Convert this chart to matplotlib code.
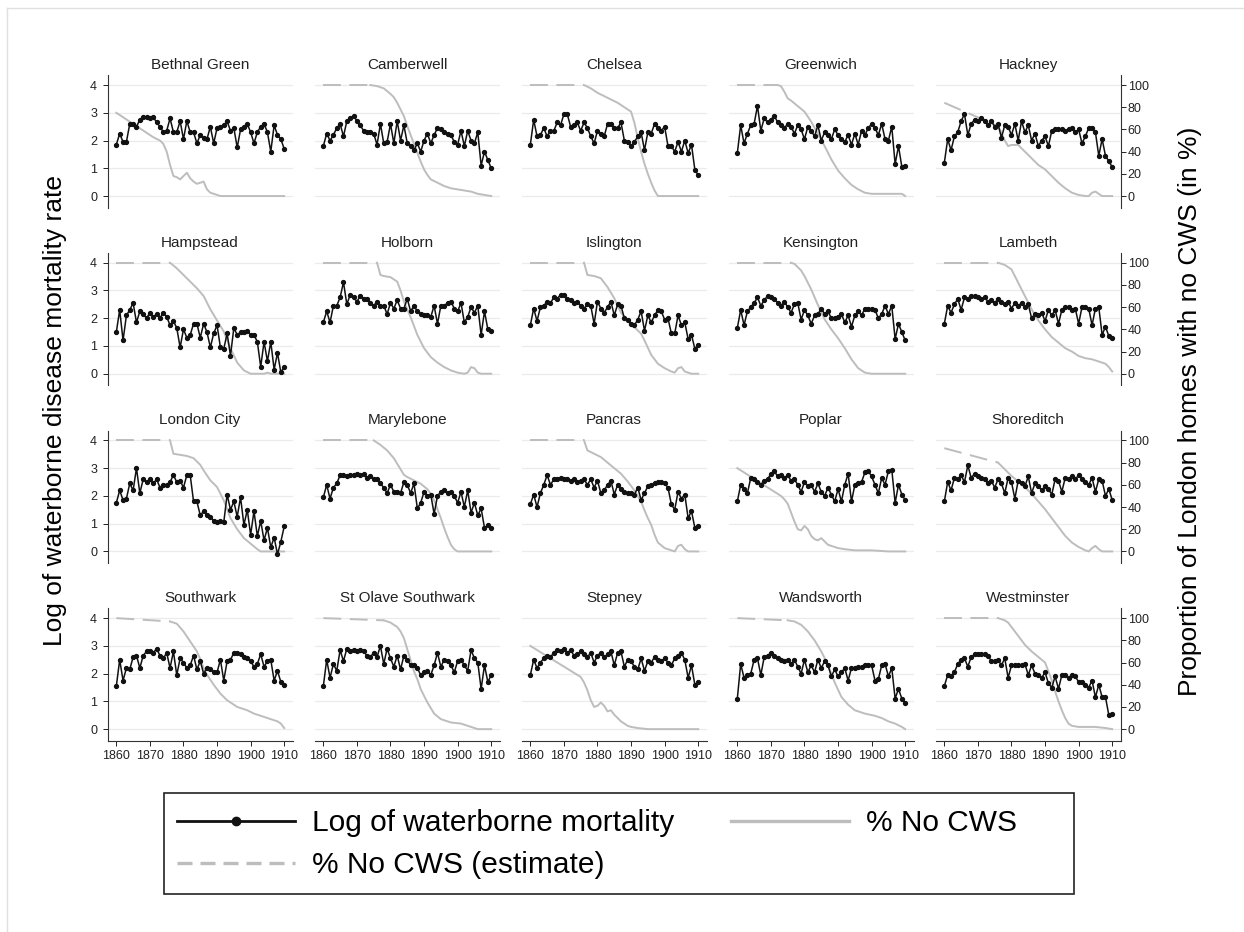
import numpy as np
import matplotlib.pyplot as plt
from matplotlib.lines import Line2D
from matplotlib.patches import Rectangle

plt.rcParams['font.family'] = ['Liberation Sans', 'DejaVu Sans']

W, H = 1244, 932  # output size in pixels

DISTRICTS = ['Bethnal Green', 'Camberwell', 'Chelsea', 'Greenwich', 'Hackney',
             'Hampstead', 'Holborn', 'Islington', 'Kensington', 'Lambeth',
             'London City', 'Marylebone', 'Pancras', 'Poplar', 'Shoreditch',
             'Southwark', 'St Olave Southwark', 'Stepney', 'Wandsworth', 'Westminster']
FIRST_YEAR = 1860
X_TICKS = [1860, 1870, 1880, 1890, 1900, 1910]
LEFT_TICKS = [0, 1, 2, 3, 4]
RIGHT_TICKS = [0, 20, 40, 60, 80, 100]

# Log of waterborne disease mortality rate, one value per year 1860-1910
mort_bethnal_green = [1.85, 2.25, 1.95, 1.95, 2.6, 2.6, 2.5, 2.75, 2.85, 2.85, 2.8, 2.85, 2.65, 2.5, 2.3, 2.35, 2.8,
                      2.3, 2.3, 2.7, 2.05, 2.7, 2.3, 2.3, 1.9, 2.2, 2.1, 2.05, 2.5, 1.9, 2.45, 2.5, 2.55, 2.7, 2.35,
                      2.45, 1.75, 2.4, 2.5, 2.6, 2.3, 1.9, 2.3, 2.5, 2.6, 2.3, 1.6, 2.55, 2.2, 2.05, 1.7]
mort_camberwell = [1.8, 2.25, 2.0, 2.2, 2.45, 2.6, 2.15, 2.7, 2.8, 2.9, 2.7, 2.55, 2.35, 2.3, 2.3, 2.25, 1.85, 2.6,
                   1.9, 1.95, 2.6, 1.9, 2.7, 2.0, 2.55, 1.9, 1.8, 1.65, 1.9, 1.6, 2.0, 2.25, 1.9, 2.2, 2.45, 2.4, 2.3,
                   2.25, 2.2, 1.95, 1.85, 2.35, 1.8, 2.35, 2.0, 1.9, 2.3, 1.1, 1.6, 1.3, 1.0]
mort_chelsea = [1.85, 2.75, 2.15, 2.2, 2.45, 2.15, 2.35, 2.35, 2.65, 2.55, 2.95, 2.95, 2.5, 2.55, 2.65, 2.35, 2.65,
                2.45, 2.15, 1.9, 2.35, 2.25, 2.15, 2.6, 2.6, 2.45, 2.45, 2.65, 2.0, 1.95, 1.8, 1.95, 2.15, 2.3, 1.65,
                2.3, 2.25, 2.6, 2.45, 2.35, 2.5, 1.8, 1.8, 1.6, 1.95, 1.6, 2.0, 1.55, 1.85, 0.95, 0.75]
mort_greenwich = [1.55, 2.55, 1.9, 2.25, 2.55, 2.6, 3.25, 2.35, 2.8, 2.65, 2.75, 2.9, 2.65, 2.55, 2.45, 2.6, 2.5,
                  2.25, 2.55, 2.4, 2.05, 2.5, 2.35, 2.15, 2.55, 2.0, 2.3, 2.2, 2.05, 2.4, 2.2, 2.05, 1.95, 2.2, 1.85,
                  2.25, 1.85, 2.35, 2.2, 2.45, 2.6, 2.45, 2.2, 2.6, 2.05, 2.0, 2.5, 1.15, 1.8, 1.05, 1.1]
mort_hackney = [1.2, 2.05, 1.65, 2.15, 2.3, 2.7, 2.95, 2.2, 2.6, 2.75, 2.7, 2.8, 2.7, 2.55, 2.7, 2.5, 2.6, 2.1, 2.55,
                2.5, 2.2, 2.6, 2.0, 2.7, 2.3, 2.55, 2.0, 2.25, 1.8, 2.0, 2.15, 1.8, 2.35, 2.4, 2.4, 2.4, 2.35, 2.4,
                2.45, 2.3, 2.4, 1.9, 2.15, 2.45, 2.45, 2.3, 1.45, 2.05, 1.45, 1.25, 1.05]
mort_hampstead = [1.5, 2.3, 1.2, 2.1, 2.3, 2.55, 1.85, 2.25, 2.15, 2.0, 2.2, 2.05, 2.15, 2.0, 2.2, 2.05, 1.75, 1.9,
                  1.65, 0.95, 1.6, 1.3, 1.4, 1.8, 1.8, 1.3, 1.8, 1.5, 0.95, 1.45, 1.75, 0.95, 0.9, 1.45, 0.65, 1.65,
                  1.4, 1.5, 1.5, 1.55, 1.4, 1.4, 1.15, 0.25, 1.15, 0.45, 1.15, 0.15, 0.75, 0.05, 0.25]
mort_holborn = [1.85, 2.25, 1.85, 2.45, 2.45, 2.75, 3.3, 2.5, 2.85, 2.75, 2.6, 2.8, 2.7, 2.7, 2.55, 2.45, 2.6, 2.45,
                2.45, 2.15, 2.55, 2.35, 2.65, 2.35, 2.35, 2.7, 2.25, 2.45, 2.25, 2.15, 2.1, 2.1, 2.05, 2.45, 1.8,
                2.45, 2.45, 2.55, 2.6, 2.35, 2.25, 2.55, 1.85, 2.05, 2.4, 2.2, 2.45, 1.4, 2.25, 1.6, 1.55]
mort_islington = [1.75, 2.35, 1.9, 2.4, 2.45, 2.6, 2.55, 2.75, 2.7, 2.85, 2.85, 2.7, 2.65, 2.55, 2.6, 2.45, 2.35,
                  2.5, 2.45, 1.8, 2.6, 2.35, 2.2, 2.4, 2.6, 2.1, 2.5, 2.45, 2.0, 1.95, 1.8, 1.75, 1.95, 2.25, 1.55,
                  2.1, 1.85, 2.1, 2.3, 2.25, 1.95, 2.0, 1.45, 1.45, 2.1, 1.75, 1.85, 1.25, 1.4, 0.9, 1.05]
mort_kensington = [1.65, 2.3, 1.75, 2.25, 2.4, 2.55, 2.75, 2.45, 2.65, 2.8, 2.75, 2.7, 2.55, 2.45, 2.6, 2.4, 2.2,
                   2.5, 2.55, 1.95, 2.3, 2.1, 1.8, 2.1, 2.15, 2.35, 2.15, 2.25, 2.0, 2.0, 2.05, 2.15, 1.85, 2.1, 1.7,
                   2.1, 2.25, 2.1, 2.35, 2.35, 2.35, 2.3, 2.0, 2.15, 2.45, 2.15, 2.45, 1.25, 1.8, 1.5, 1.2]
mort_lambeth = [1.8, 2.45, 2.2, 2.5, 2.7, 2.3, 2.75, 2.7, 2.8, 2.8, 2.75, 2.7, 2.75, 2.6, 2.65, 2.55, 2.7, 2.6, 2.5,
                2.6, 2.35, 2.55, 2.45, 2.55, 2.4, 2.5, 2.0, 2.15, 2.1, 2.2, 1.9, 2.3, 2.1, 2.3, 1.8, 2.3, 2.4, 2.4,
                2.3, 2.35, 1.8, 2.4, 2.4, 2.35, 1.75, 2.35, 2.4, 1.4, 1.7, 1.35, 1.3]
mort_london_city = [1.75, 2.2, 1.85, 1.9, 2.45, 2.2, 3.0, 2.1, 2.6, 2.5, 2.6, 2.45, 2.6, 2.3, 2.4, 2.4, 2.5, 2.75,
                    2.5, 2.55, 2.3, 2.75, 2.75, 1.8, 1.8, 1.3, 1.45, 1.3, 1.25, 1.1, 1.05, 1.1, 1.05, 2.05, 1.5, 1.8,
                    1.25, 1.95, 0.95, 1.5, 0.6, 1.45, 0.55, 1.1, 0.4, 0.85, 0.15, 0.5, -0.1, 0.35, 0.9]
mort_marylebone = [1.95, 2.4, 1.9, 2.3, 2.45, 2.75, 2.75, 2.7, 2.75, 2.75, 2.8, 2.75, 2.8, 2.65, 2.7, 2.6, 2.6,
                   2.45, 2.3, 2.1, 2.4, 2.15, 2.15, 2.1, 2.5, 2.4, 2.1, 2.45, 1.55, 1.75, 2.15, 2.0, 2.05, 1.35, 2.0,
                   2.15, 2.2, 2.1, 2.15, 2.0, 1.75, 2.15, 1.6, 2.2, 1.4, 1.75, 1.3, 1.55, 0.85, 0.95, 0.85]
mort_pancras = [1.7, 2.05, 1.6, 2.1, 2.4, 2.75, 2.4, 2.6, 2.6, 2.65, 2.6, 2.6, 2.55, 2.6, 2.5, 2.55, 2.6, 2.4, 2.6,
                2.3, 2.55, 2.1, 2.2, 2.4, 2.55, 2.05, 2.4, 2.25, 2.15, 2.1, 2.1, 2.05, 2.3, 1.85, 2.1, 2.35, 2.4,
                2.45, 2.5, 2.5, 2.45, 2.3, 1.7, 1.5, 2.15, 1.9, 2.05, 1.2, 1.45, 0.85, 0.9]
mort_poplar = [1.8, 2.4, 2.25, 2.1, 2.65, 2.6, 2.5, 2.4, 2.55, 2.6, 2.8, 2.9, 2.7, 2.75, 2.65, 2.75, 2.55, 2.6, 2.4,
               2.15, 2.5, 2.35, 2.4, 2.15, 2.45, 2.15, 2.0, 2.3, 2.05, 1.8, 2.25, 1.8, 2.4, 2.8, 1.8, 2.4, 2.45, 2.5,
               2.85, 2.9, 2.7, 2.4, 2.1, 2.65, 2.4, 2.9, 2.95, 1.75, 2.4, 2.05, 1.85]
mort_shoreditch = [1.8, 2.5, 2.2, 2.65, 2.6, 2.75, 2.5, 3.1, 2.65, 2.8, 2.7, 2.65, 2.6, 2.45, 2.55, 2.3, 2.6, 2.45,
                   2.1, 2.65, 2.5, 1.9, 2.55, 2.45, 2.35, 2.7, 2.1, 2.45, 2.35, 2.2, 2.35, 2.25, 2.05, 2.6, 2.55,
                   2.15, 2.65, 2.6, 2.7, 2.6, 2.75, 2.6, 2.5, 2.4, 2.65, 2.15, 2.6, 2.55, 2.0, 2.25, 1.85]
mort_southwark = [1.55, 2.5, 1.75, 2.2, 2.15, 2.6, 2.65, 2.2, 2.65, 2.8, 2.8, 2.75, 2.9, 2.65, 2.55, 2.75, 2.2, 2.8,
                  1.95, 2.55, 2.4, 2.2, 2.3, 2.65, 2.15, 2.45, 2.0, 2.2, 2.15, 2.05, 2.05, 2.5, 1.75, 2.45, 2.5,
                  2.75, 2.75, 2.7, 2.6, 2.55, 2.45, 2.25, 2.35, 2.7, 2.25, 2.45, 2.5, 1.75, 2.1, 1.7, 1.6]
mort_st_olave = [1.55, 2.5, 1.85, 2.35, 2.1, 2.85, 2.45, 2.9, 2.8, 2.85, 2.8, 2.85, 2.8, 2.65, 2.6, 2.75, 2.6, 3.0,
                 2.35, 2.9, 2.55, 2.25, 2.65, 2.15, 2.65, 2.5, 2.3, 2.3, 2.2, 1.95, 2.05, 2.1, 1.95, 2.3, 2.75, 2.25,
                 2.5, 2.45, 2.3, 2.05, 2.45, 2.5, 2.3, 2.1, 2.85, 2.55, 2.4, 1.45, 2.3, 1.7, 1.95]
mort_stepney = [1.95, 2.5, 2.2, 2.4, 2.55, 2.65, 2.6, 2.75, 2.85, 2.8, 2.9, 2.75, 2.85, 2.65, 2.7, 2.8, 2.7, 2.6,
                2.75, 2.4, 2.65, 2.75, 2.6, 2.7, 2.8, 2.3, 2.75, 2.8, 2.25, 2.5, 2.45, 2.25, 2.15, 2.55, 2.1, 2.45,
                2.4, 2.6, 2.5, 2.45, 2.55, 2.4, 2.3, 2.55, 2.65, 2.75, 2.5, 1.85, 2.3, 1.6, 1.7]
mort_wandsworth = [1.1, 2.35, 1.85, 1.95, 2.0, 2.5, 2.55, 1.95, 2.6, 2.65, 2.75, 2.65, 2.55, 2.5, 2.45, 2.5, 2.35,
                   2.5, 2.25, 2.0, 2.5, 2.05, 2.3, 2.05, 2.5, 2.2, 2.45, 2.3, 1.9, 2.15, 1.9, 2.05, 2.2, 1.75, 2.2,
                   2.2, 2.25, 2.25, 2.3, 2.3, 2.3, 1.75, 1.8, 2.3, 2.35, 1.9, 2.2, 1.1, 1.45, 1.1, 0.95]
mort_westminster = [1.55, 1.95, 1.9, 2.05, 2.35, 2.5, 2.55, 2.25, 2.6, 2.7, 2.7, 2.7, 2.7, 2.65, 2.45, 2.45, 2.5,
                    2.3, 2.55, 1.85, 2.3, 2.3, 2.3, 2.3, 2.35, 1.95, 2.3, 2.0, 1.95, 1.85, 2.05, 1.65, 1.5, 1.9, 1.45,
                    1.95, 1.95, 1.85, 1.95, 1.9, 1.7, 1.7, 1.6, 1.5, 1.75, 1.15, 1.6, 1.15, 1.15, 0.5, 0.55]

# % of homes with no constant water supply (observed part)
cws_yr_bethnal_green = [1860, 1871, 1873, 1874, 1875, 1876, 1877, 1878, 1879, 1880, 1881, 1882, 1883, 1884, 1885,
                        1886, 1887, 1888, 1889, 1890, 1891, 1895, 1900, 1905, 1910]
cws_bethnal_green = [75, 53, 50, 47, 40, 28, 18, 17, 15, 18, 21, 16, 13, 11, 12, 13, 6, 3, 2, 1, 0, 0, 0, 0, 0]
cws_yr_camberwell = [1874, 1876, 1878, 1880, 1881, 1882, 1883, 1884, 1885, 1886, 1887, 1888, 1889, 1890, 1891,
                     1892, 1894, 1896, 1898, 1900, 1902, 1904, 1906, 1908, 1910]
cws_camberwell = [100, 99, 97, 92, 89, 84, 78, 72, 63, 55, 47, 39, 31, 24, 19, 15, 12, 9, 7, 6, 5, 4, 2, 1, 0]
cws_yr_chelsea = [1876, 1878, 1880, 1882, 1884, 1886, 1888, 1890, 1891, 1892, 1893, 1894, 1895, 1896, 1897, 1898, 1910]
cws_chelsea = [100, 97, 93, 90, 87, 84, 80, 76, 66, 52, 40, 29, 20, 12, 5, 0, 0]
cws_yr_greenwich = [1872, 1873, 1874, 1875, 1876, 1878, 1880, 1882, 1884, 1886, 1888, 1890, 1892, 1894, 1896,
                    1898, 1900, 1905, 1909, 1910]
cws_greenwich = [100, 99, 94, 88, 86, 81, 76, 67, 56, 45, 33, 23, 16, 10, 6, 3, 2, 2, 2, 0]
cws_yr_hackney = [1876, 1877, 1878, 1879, 1880, 1882, 1884, 1886, 1888, 1890, 1892, 1894, 1896, 1898, 1900, 1902,
                  1903, 1904, 1905, 1906, 1907, 1910]
cws_hackney = [63, 57, 50, 45, 46, 46, 40, 34, 28, 24, 18, 12, 7, 3, 1, 0, 0, 3, 4, 2, 0, 0]
cws_yr_hampstead = [1876, 1878, 1880, 1882, 1884, 1886, 1888, 1890, 1892, 1894, 1896, 1898, 1900, 1904, 1905,
                    1906, 1910]
cws_hampstead = [100, 95, 89, 83, 77, 70, 58, 48, 38, 23, 10, 3, 0, 0, 1, 0, 0]
cws_yr_holborn = [1876, 1877, 1878, 1880, 1882, 1883, 1884, 1886, 1888, 1890, 1892, 1894, 1896, 1898, 1900, 1902,
                  1903, 1904, 1905, 1906, 1907, 1910]
cws_holborn = [100, 89, 88, 87, 83, 75, 65, 51, 35, 23, 15, 10, 6, 3, 1, 0, 1, 6, 5, 1, 0, 0]
cws_yr_islington = [1876, 1877, 1879, 1881, 1883, 1885, 1887, 1889, 1891, 1893, 1894, 1896, 1898, 1900, 1902, 1903,
                    1904, 1905, 1906, 1907, 1908, 1910]
cws_islington = [100, 89, 88, 86, 78, 68, 55, 48, 42, 36, 30, 17, 9, 5, 2, 1, 5, 6, 2, 1, 0, 0]
cws_yr_kensington = [1876, 1877, 1878, 1879, 1880, 1882, 1884, 1886, 1888, 1890, 1892, 1894, 1896, 1898, 1900, 1910]
cws_kensington = [100, 99, 96, 93, 88, 76, 62, 49, 40, 32, 23, 13, 5, 1, 0, 0]
cws_yr_lambeth = [1876, 1878, 1880, 1881, 1882, 1884, 1886, 1888, 1890, 1892, 1894, 1896, 1898, 1900, 1902, 1904,
                  1906, 1908, 1909, 1910]
cws_lambeth = [100, 98, 94, 88, 82, 70, 58, 48, 40, 33, 28, 23, 20, 16, 14, 13, 11, 9, 6, 2]
cws_yr_london_city = [1876, 1877, 1879, 1881, 1883, 1885, 1886, 1888, 1890, 1892, 1894, 1896, 1898, 1900, 1902,
                      1903, 1910]
cws_london_city = [100, 88, 87, 86, 84, 78, 73, 64, 58, 46, 30, 20, 12, 7, 2, 0, 0]
cws_yr_marylebone = [1875, 1877, 1879, 1881, 1883, 1884, 1885, 1887, 1889, 1891, 1892, 1893, 1894, 1895, 1896,
                     1897, 1898, 1899, 1900, 1910]
cws_marylebone = [100, 96, 91, 84, 74, 69, 67, 64, 61, 56, 52, 46, 38, 30, 21, 13, 6, 2, 0, 0]
cws_yr_pancras = [1876, 1877, 1879, 1881, 1883, 1885, 1887, 1889, 1891, 1893, 1894, 1895, 1896, 1897, 1898, 1900,
                  1902, 1903, 1904, 1905, 1906, 1907, 1910]
cws_pancras = [100, 91, 88, 85, 80, 75, 70, 63, 55, 45, 37, 30, 24, 15, 8, 3, 1, 0, 5, 6, 2, 0, 0]
cws_yr_poplar = [1860, 1873, 1874, 1875, 1876, 1877, 1878, 1879, 1880, 1881, 1882, 1883, 1884, 1885, 1886, 1887,
                 1888, 1890, 1892, 1895, 1900, 1905, 1910]
cws_poplar = [75, 50, 47, 43, 35, 27, 20, 19, 23, 20, 14, 11, 10, 12, 9, 6, 5, 3, 2, 1, 1, 0, 0]
cws_yr_shoreditch = [1876, 1878, 1880, 1882, 1884, 1886, 1888, 1890, 1892, 1894, 1896, 1898, 1900, 1902, 1903,
                     1904, 1905, 1906, 1907, 1910]
cws_shoreditch = [80, 74, 68, 63, 58, 52, 45, 38, 30, 22, 14, 8, 4, 1, 0, 3, 5, 2, 0, 0]
cws_yr_southwark = [1876, 1878, 1880, 1882, 1884, 1885, 1886, 1887, 1889, 1891, 1893, 1896, 1899, 1901, 1904, 1906,
                    1908, 1909, 1910]
cws_southwark = [97, 95, 88, 79, 70, 63, 55, 49, 40, 32, 26, 20, 17, 14, 11, 9, 7, 5, 1]
cws_yr_st_olave = [1878, 1880, 1882, 1883, 1884, 1885, 1886, 1887, 1888, 1889, 1890, 1891, 1893, 1895, 1898, 1901,
                   1904, 1906, 1910]
cws_st_olave = [98, 96, 92, 88, 82, 72, 62, 52, 45, 36, 30, 24, 14, 9, 6, 5, 2, 0, 0]
cws_yr_stepney = [1860, 1875, 1876, 1877, 1878, 1879, 1880, 1881, 1882, 1883, 1884, 1885, 1886, 1887, 1888, 1889,
                  1890, 1892, 1895, 1898, 1900, 1905, 1910]
cws_stepney = [75, 47, 42, 35, 26, 20, 21, 24, 21, 16, 17, 13, 10, 7, 5, 3, 2, 1, 0, 0, 0, 0, 0]
cws_yr_wandsworth = [1875, 1877, 1879, 1881, 1883, 1885, 1887, 1889, 1891, 1893, 1895, 1898, 1901, 1903, 1905,
                     1907, 1909, 1910]
cws_wandsworth = [98, 97, 94, 88, 80, 70, 58, 42, 29, 22, 17, 14, 12, 10, 7, 5, 2, 0]
cws_yr_westminster = [1876, 1878, 1879, 1880, 1882, 1884, 1886, 1888, 1890, 1891, 1892, 1893, 1894, 1895, 1896,
                      1897, 1898, 1900, 1905, 1908, 1910]
cws_westminster = [100, 98, 96, 92, 84, 76, 70, 65, 60, 52, 44, 34, 25, 17, 10, 5, 3, 2, 2, 1, 0]

# estimated % no CWS in 1860 (dashed line runs from here to the first observed value);
# None where the observed series already starts in 1860
EST_1860 = [None, 100, 100, 100, 84, 100, 100, 100, 100, 100,
            100, 100, 100, None, 93, 100, 100, None, 100, 100]

MORTALITY = [mort_bethnal_green, mort_camberwell, mort_chelsea, mort_greenwich, mort_hackney,
             mort_hampstead, mort_holborn, mort_islington, mort_kensington, mort_lambeth,
             mort_london_city, mort_marylebone, mort_pancras, mort_poplar, mort_shoreditch,
             mort_southwark, mort_st_olave, mort_stepney, mort_wandsworth, mort_westminster]
CWS_YEARS = [cws_yr_bethnal_green, cws_yr_camberwell, cws_yr_chelsea, cws_yr_greenwich, cws_yr_hackney,
             cws_yr_hampstead, cws_yr_holborn, cws_yr_islington, cws_yr_kensington, cws_yr_lambeth,
             cws_yr_london_city, cws_yr_marylebone, cws_yr_pancras, cws_yr_poplar, cws_yr_shoreditch,
             cws_yr_southwark, cws_yr_st_olave, cws_yr_stepney, cws_yr_wandsworth, cws_yr_westminster]
CWS_VALUES = [cws_bethnal_green, cws_camberwell, cws_chelsea, cws_greenwich, cws_hackney,
              cws_hampstead, cws_holborn, cws_islington, cws_kensington, cws_lambeth,
              cws_london_city, cws_marylebone, cws_pancras, cws_poplar, cws_shoreditch,
              cws_southwark, cws_st_olave, cws_stepney, cws_wandsworth, cws_westminster]

BLACK = '#111111'
GREY = '#bdbdbd'
GRID = '#ebebeb'
AXIS = '#333333'

# panel geometry in pixels
COL_X0, COL_PITCH, AX_W = 107.6, 207.0, 185.0
ROW_Y0, ROW_PITCH, AX_H = 75.3, 177.7, 132.4


def to_pct(v):
    return v * 25.0


def to_log(p):
    return p / 25.0


fig = plt.figure(figsize=(W / 100, H / 100), dpi=100)

for i, name in enumerate(DISTRICTS):
    r, c = divmod(i, 5)
    left = COL_X0 + c * COL_PITCH
    top = ROW_Y0 + r * ROW_PITCH
    ax = fig.add_axes([left / W, 1 - (top + AX_H) / H, AX_W / W, AX_H / H])

    # grey lines are in percent, drawn on the log scale (100 % = 4)
    cy, cv = CWS_YEARS[i], CWS_VALUES[i]
    if EST_1860[i] is not None:
        ax.plot([FIRST_YEAR, cy[0]], to_log(np.array([EST_1860[i], cv[0]])), color=GREY, lw=1.4,
                dashes=(9.2, 4.4), zorder=2)
    ax.plot(cy, to_log(np.array(cv)), color=GREY, lw=1.4, zorder=2)

    vals = MORTALITY[i]
    years = np.arange(FIRST_YEAR, FIRST_YEAR + len(vals))
    ax.plot(years, vals, color=BLACK, lw=1.1, marker='o', ms=2.8, zorder=3)

    ax.set_xlim(1857.4, 1912.5)
    ax.set_ylim(-0.42, 4.35)
    ax.set_yticks(LEFT_TICKS)
    ax.set_xticks(X_TICKS)
    ax.set_axisbelow(True)
    ax.yaxis.grid(True, color=GRID, lw=0.9)
    for side in ['top', 'right', 'left', 'bottom']:
        ax.spines[side].set_visible(False)

    if c == 0:
        ax.spines['left'].set_visible(True)
        ax.spines['left'].set_color(AXIS)
        ax.spines['left'].set_linewidth(0.8)
        ax.tick_params(axis='y', labelsize=9, length=3.6, width=0.7, pad=4, colors='#222222')
    else:
        ax.tick_params(axis='y', left=False, labelleft=False)

    if r == 3:
        ax.spines['bottom'].set_visible(True)
        ax.spines['bottom'].set_color(AXIS)
        ax.spines['bottom'].set_linewidth(0.8)
        ax.tick_params(axis='x', labelsize=9, length=3.6, width=0.7, pad=3, colors='#222222')
    else:
        ax.tick_params(axis='x', bottom=False, labelbottom=False)

    if c == 4:
        sec = ax.secondary_yaxis('right', functions=(to_pct, to_log))
        sec.set_yticks(RIGHT_TICKS)
        sec.spines['right'].set_color(AXIS)
        sec.spines['right'].set_linewidth(0.8)
        sec.tick_params(labelsize=9, length=3.6, width=0.7, pad=1.5, colors='#222222')

    fig.text((left + AX_W / 2) / W, 1 - (top - 10.3) / H, name, ha='center', va='center',
             fontsize=11, color='#222222')

fig.text(55 / W, 1 - 411 / H, 'Log of waterborne disease mortality rate', rotation=90,
         ha='center', va='center', fontsize=19)
fig.text(1190 / W, 1 - 411 / H, 'Proportion of London homes with no CWS (in %)', rotation=90,
         ha='center', va='center', fontsize=19)

# legend: frameless legend plus a plain rectangle for the box
handles = [Line2D([], [], color=BLACK, lw=2.0, marker='o', ms=6),
           Line2D([], [], color=GREY, lw=2.4, dashes=(4.5, 2.4)),
           Line2D([], [], color=GREY, lw=2.4)]
labels = ['Log of waterborne mortality', '% No CWS (estimate)', '% No CWS']
fig.legend(handles, labels, ncol=2, loc='upper left', bbox_to_anchor=(177 / W, 1 - 809 / H),
           frameon=False, fontsize=21.5, handlelength=3.95, handletextpad=0.57,
           columnspacing=1.9, labelspacing=0.48, borderpad=0, borderaxespad=0, numpoints=1)
fig.add_artist(Rectangle((164 / W, 1 - 894 / H), (1074 - 164) / W, (894 - 793) / H,
                         transform=fig.transFigure, fill=False, edgecolor='#222222', lw=1.2))

# faint outer frame (top and left)
fig.add_artist(Line2D([7 / W, 1], [1 - 8 / H, 1 - 8 / H], transform=fig.transFigure,
                      color='#e0e0e0', lw=1))
fig.add_artist(Line2D([7 / W, 7 / W], [0, 1 - 8 / H], transform=fig.transFigure,
                      color='#e0e0e0', lw=1))

fig.savefig('out.png', dpi=100, facecolor='white')
